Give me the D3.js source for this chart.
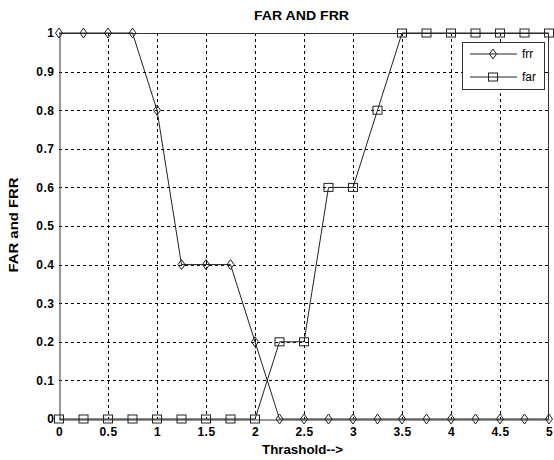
<!DOCTYPE html>
<html>
<head>
<meta charset="utf-8">
<script src="https://cdn.jsdelivr.net/npm/d3@7"></script>
<style>
  body { margin: 0; background: #fff; }
  text { font-family: "Liberation Sans", Arial, sans-serif; }
</style>
</head>
<body>
<div id="chart"></div>
<script>
const WIDTH = 554;
const HEIGHT = 460;

// thresholds 0..5 step 0.25
const thresholds = [0, 0.25, 0.5, 0.75, 1, 1.25, 1.5, 1.75, 2, 2.25, 2.5, 2.75, 3, 3.25, 3.5, 3.75, 4, 4.25, 4.5, 4.75, 5];
const frr = [1, 1, 1, 1, 0.8, 0.4, 0.4, 0.4, 0.2, 0, 0, 0, 0, 0, 0, 0, 0, 0, 0, 0, 0];
const far = [0, 0, 0, 0, 0, 0, 0, 0, 0, 0.2, 0.2, 0.6, 0.6, 0.8, 1, 1, 1, 1, 1, 1, 1];
const xTicks = [0, 0.5, 1, 1.5, 2, 2.5, 3, 3.5, 4, 4.5, 5];
const yTicks = [0, 0.1, 0.2, 0.3, 0.4, 0.5, 0.6, 0.7, 0.8, 0.9, 1];

const margin = { left: 59, right: 5, top: 33, bottom: 41 };

let svg = d3
  .select("#chart")
  .append("svg")
  .attr("width", WIDTH)
  .attr("height", HEIGHT);

const x = d3.scaleLinear().domain([0, 5]).range([margin.left, WIDTH - margin.right]);
const y = d3.scaleLinear().domain([0, 1]).range([HEIGHT - margin.bottom, margin.top]);

//grid lines
const grid = svg.append("g").attr("stroke", "#000").attr("stroke-width", 1).attr("stroke-dasharray", "3,3");
grid.selectAll(".gx")
  .data(xTicks.slice(1, -1))
  .enter()
  .append("line")
  .attr("x1", (d) => Math.round(x(d)) + 0.5)
  .attr("x2", (d) => Math.round(x(d)) + 0.5)
  .attr("y1", y(1))
  .attr("y2", y(0));
grid.selectAll(".gy")
  .data(yTicks.slice(1, -1))
  .enter()
  .append("line")
  .attr("y1", (d) => Math.round(y(d)) + 0.5)
  .attr("y2", (d) => Math.round(y(d)) + 0.5)
  .attr("x1", x(0))
  .attr("x2", x(5));

//axes
const xAxis = svg.append("g")
  .attr("transform", `translate(0, ${Math.round(y(0)) + 0.5})`)
  .call(d3.axisBottom(x).tickValues(xTicks).tickFormat(d3.format("")).tickSize(0).tickPadding(8));
const yAxis = svg.append("g")
  .attr("transform", `translate(${Math.round(x(0)) + 0.5}, 0)`)
  .call(d3.axisLeft(y).tickValues(yTicks).tickFormat(d3.format("")).tickSize(0).tickPadding(5));
[xAxis, yAxis].forEach((a) => {
  a.select(".domain").attr("stroke", "#333");
  a.selectAll("text")
    .attr("fill", "#000")
    .style("font-size", "12px")
    .style("font-weight", "bold")
    .style("letter-spacing", "0.5px");
});

//frame top and right
svg.append("path")
  .attr("d", `M${x(0)},${Math.round(y(1)) + 0.5}H${Math.round(x(5)) - 0.5}V${y(0)}`)
  .attr("fill", "none")
  .attr("stroke", "#333");

//series lines
const line = d3.line()
  .x((d) => x(d[0]))
  .y((d) => y(d[1]));

const frrData = thresholds.map((t, i) => [t, frr[i]]);
const farData = thresholds.map((t, i) => [t, far[i]]);

svg.append("path").datum(frrData).attr("d", line).attr("fill", "none").attr("stroke", "#222").attr("stroke-width", 1);
svg.append("path").datum(farData).attr("d", line).attr("fill", "none").attr("stroke", "#222").attr("stroke-width", 1);

function diamond(g, cx, cy) {
  g.append("path")
    .attr("d", `M${cx},${cy - 5}L${cx + 3.5},${cy}L${cx},${cy + 5}L${cx - 3.5},${cy}Z`)
    .attr("fill", "none")
    .attr("stroke", "#222");
}
function square(g, cx, cy) {
  g.append("rect")
    .attr("x", cx - 4.5)
    .attr("y", cy - 4)
    .attr("width", 9)
    .attr("height", 8)
    .attr("fill", "none")
    .attr("stroke", "#222");
}

const markers = svg.append("g");
frrData.forEach((d) => diamond(markers, x(d[0]), y(d[1])));
farData.forEach((d) => square(markers, x(d[0]), y(d[1])));

//title and labels
svg.append("text")
  .attr("x", 301.5)
  .attr("y", 20)
  .attr("text-anchor", "middle")
  .attr("textLength", 95)
  .attr("lengthAdjust", "spacingAndGlyphs")
  .style("font-size", "13px")
  .style("font-weight", "bold")
  .text("FAR AND FRR");

svg.append("text")
  .attr("x", 302.5)
  .attr("y", 454)
  .attr("text-anchor", "middle")
  .attr("textLength", 81)
  .attr("lengthAdjust", "spacingAndGlyphs")
  .style("font-size", "12px")
  .style("font-weight", "bold")
  .text("Thrashold-->");

svg.append("text")
  .attr("transform", `translate(17.5, 225) rotate(-90)`)
  .attr("text-anchor", "middle")
  .attr("textLength", 95)
  .attr("lengthAdjust", "spacingAndGlyphs")
  .style("font-size", "12px")
  .style("font-weight", "bold")
  .text("FAR and FRR");

//legend
const legend = svg.append("g").attr("transform", "translate(462, 42)");
legend.append("rect")
  .attr("x", 0.5)
  .attr("y", 0.5)
  .attr("width", 82)
  .attr("height", 47)
  .attr("fill", "#fff")
  .attr("stroke", "#333");
[["frr", diamond], ["far", square]].forEach((item, i) => {
  const ly = 12 + i * 23;
  legend.append("line")
    .attr("x1", 8)
    .attr("x2", 55)
    .attr("y1", ly)
    .attr("y2", ly)
    .attr("stroke", "#222");
  item[1](legend, 31, ly);
  legend.append("text")
    .attr("x", 60)
    .attr("y", ly + 4)
    .style("font-size", "12px")
    .text(item[0]);
});
</script>
</body>
</html>
